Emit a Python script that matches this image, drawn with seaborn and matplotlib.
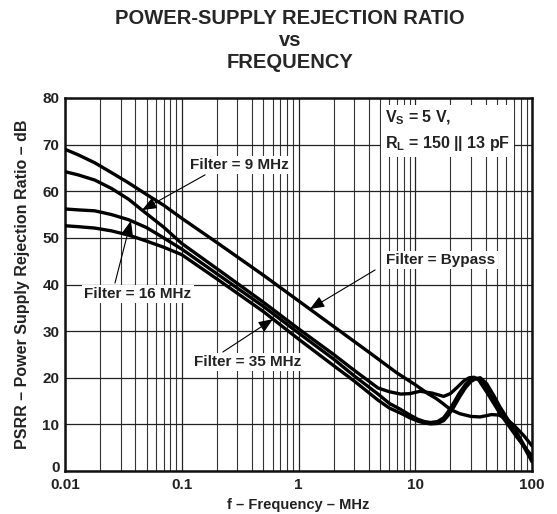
import numpy as np
import pandas as pd
import matplotlib
matplotlib.use("Agg")
import matplotlib.pyplot as plt
import matplotlib.transforms as mtransforms
from matplotlib.ticker import LogLocator, FixedLocator, NullFormatter
import seaborn as sns

# ---- data: PSRR (dB) vs frequency (MHz) ----
f_bypass = [0.01, 0.013, 0.018, 0.025, 0.035, 0.05, 0.07, 0.1, 0.2, 0.5, 1, 2, 4, 7,
            10, 13, 15, 17, 20, 24, 30, 36, 45, 52, 60, 70, 85, 100]
psrr_bypass = [69.0, 67.8, 66.1, 64.0, 61.8, 59.3, 57.0, 54.2, 49.0, 42.0, 36.5, 31.0, 25.5, 21.0,
               18.5, 16.5, 15.6, 14.6, 13.2, 12.3, 11.7, 11.6, 12.1, 12.0, 11.2, 9.8, 7.6, 5.4]

f_9mhz = [0.01, 0.013, 0.018, 0.025, 0.035, 0.046, 0.07, 0.1, 0.2, 0.5, 1, 2, 3, 4.8, 6, 7.5,
          9, 11, 14, 17.5, 20, 23, 26, 29, 32, 35, 41, 47, 53, 62, 74, 86, 100]
psrr_9mhz = [64.2, 63.5, 62.4, 60.6, 58.3, 55.9, 52.3, 48.8, 43.4, 36.2, 30.5, 25.0, 21.6, 17.8, 17.0, 16.5,
             16.6, 17.1, 16.7, 16.0, 16.6, 18.0, 19.3, 20.0, 20.1, 19.5, 16.9, 14.5, 12.4, 10.0, 7.3, 5.2, 3.2]

f_16mhz = [0.01, 0.013, 0.018, 0.025, 0.035, 0.05, 0.07, 0.1, 0.2, 0.5, 1, 2, 3, 4.8, 6, 7.5, 9,
           10.5, 12, 13.5, 15.5, 17.5, 19, 21, 24, 27, 30, 33, 36, 41, 47, 53, 62, 74, 86, 100]
psrr_16mhz = [56.2, 56.0, 55.8, 55.0, 53.9, 52.2, 50.0, 47.6, 42.3, 35.3, 29.6, 24.0, 20.4, 16.5, 14.5, 13.2, 12.0,
              11.1, 10.6, 10.4, 10.6, 11.4, 12.6, 14.3, 16.8, 18.6, 19.6, 19.9, 19.6, 17.8, 15.3, 13.0, 10.5, 7.8, 5.0, 2.0]

f_35mhz = [0.01, 0.013, 0.018, 0.025, 0.035, 0.05, 0.07, 0.1, 0.2, 0.5, 1, 2, 3, 4.8, 6, 7.5, 9,
           10.5, 12, 13.5, 15.5, 17.5, 19, 21, 24, 27, 30, 33, 36, 41, 47, 53, 62, 74, 86, 100]
psrr_35mhz = [52.6, 52.4, 52.1, 51.5, 50.6, 49.3, 48.0, 46.4, 41.2, 34.2, 28.3, 22.6, 19.3, 15.2, 13.5, 12.4, 11.4,
              10.7, 10.3, 10.1, 10.2, 10.8, 11.8, 13.4, 15.9, 17.9, 19.2, 19.8, 20.0, 18.7, 16.2, 13.8, 11.1, 8.3, 5.4, 2.4]

series_names = ["Filter = Bypass", "Filter = 9 MHz", "Filter = 16 MHz", "Filter = 35 MHz"]
series_f = [f_bypass, f_9mhz, f_16mhz, f_35mhz]
series_v = [psrr_bypass, psrr_9mhz, psrr_16mhz, psrr_35mhz]

x_ticks = [0.01, 0.1, 1, 10, 100]
x_tick_labels = ["0.01", "0.1", "1", "10", "100"]
y_ticks = [0, 10, 20, 30, 40, 50, 60, 70, 80]

frames = [pd.DataFrame({"f": f, "psrr": v, "series": name})
          for name, f, v in zip(series_names, series_f, series_v)]
df = pd.concat(frames, ignore_index=True)

# ---- style ----
sns.set_style("white")
plt.rcParams["font.family"] = ["Liberation Sans", "DejaVu Sans"]
plt.rcParams["font.weight"] = "bold"
plt.rcParams["mathtext.fontset"] = "custom"
plt.rcParams["mathtext.rm"] = "Liberation Sans:bold"
plt.rcParams["mathtext.bf"] = "Liberation Sans:bold"
plt.rcParams["mathtext.it"] = "Liberation Sans:bold"

fig = plt.figure(figsize=(5.57, 5.14), dpi=100)
ax = fig.add_axes([65 / 557, 43 / 514, 467 / 557, 373 / 514])

sns.lineplot(data=df, x="f", y="psrr", hue="series", units="series", estimator=None,
             palette=["black"] * 4, linewidth=2.4, legend=False, ax=ax, sort=False, zorder=3)

ax.set_xscale("log")
ax.set_xlim(0.01, 100)
ax.set_ylim(0, 80)
ax.xaxis.set_major_locator(FixedLocator(x_ticks))
ax.set_xticklabels(x_tick_labels)
ax.xaxis.set_minor_locator(LogLocator(base=10, subs=np.arange(2, 10)))
ax.xaxis.set_minor_formatter(NullFormatter())
ax.set_yticks(y_ticks)

ax.grid(True, which="major", axis="both", color="#222222", linewidth=0.9, zorder=0)
ax.grid(True, which="minor", axis="x", color="#333333", linewidth=0.8, zorder=0)
ax.set_axisbelow(True)
ax.tick_params(axis="both", which="both", length=0, labelsize=11)
ax.tick_params(axis="x", pad=5)
ax.tick_params(axis="y", pad=4)
for lab in ax.get_xticklabels() + ax.get_yticklabels():
    lab.set_fontweight("bold")
    lab.set_color("#222222")
# lift the "0" label a little so it clears the "0.01" label below it
zero_label = ax.get_yticklabels()[0]
zero_label.set_transform(zero_label.get_transform() +
                         mtransforms.ScaledTranslation(0, 4 / 100, fig.dpi_scale_trans))
for sp in ax.spines.values():
    sp.set_visible(True)
    sp.set_color("#111111")
    sp.set_linewidth(1.8)

ax.set_xlabel("f \u2013 Frequency \u2013 MHz", fontsize=10.5, fontweight="bold", labelpad=4, color="#222222")
ax.set_ylabel("PSRR \u2013 Power Supply Rejection Ratio \u2013 dB", fontsize=11.5, fontweight="bold",
              labelpad=9, color="#222222")

fig.text(290 / 557, 1 - 18 / 514, "POWER-SUPPLY REJECTION RATIO", ha="center", va="center",
         fontsize=14.5, fontweight="bold")
fig.text(290 / 557, 1 - 40 / 514, "vs", ha="center", va="center", fontsize=14.5, fontweight="bold")
fig.text(290 / 557, 1 - 63 / 514, "FREQUENCY", ha="center", va="center", fontsize=14.5, fontweight="bold")


def on_curve(idx, freq):
    """Point on a series at the given frequency (log-frequency lookup)."""
    f = np.log10(series_f[idx])
    return freq, float(np.interp(np.log10(freq), f, series_v[idx]))


box = dict(boxstyle="square,pad=0.15", fc="white", ec="none")
arrow = dict(arrowstyle="-|>,head_length=0.55,head_width=0.22", mutation_scale=16,
             lw=0.8, color="black", shrinkA=0, shrinkB=0)

# (series index, frequency of arrow tip, arrow tail in axes fraction, label centre in axes fraction)
callouts = [
    (1, 0.0457, (0.300, 0.794), (0.373, 0.820)),
    (2, 0.0367, (0.107, 0.504), (0.156, 0.4745)),
    (0, 1.25, (0.664, 0.539), (0.805, 0.566)),
    (3, 0.605, (0.338, 0.319), (0.392, 0.292)),
]
for idx, ftip, tail, centre in callouts:
    ax.annotate("", xy=on_curve(idx, ftip), xycoords="data", xytext=tail,
                textcoords="axes fraction", arrowprops=arrow, zorder=4)
    ax.text(centre[0], centre[1], series_names[idx], transform=ax.transAxes, ha="center",
            va="center", fontsize=11, fontweight="bold", color="#222222", bbox=box, zorder=5)

ax.text(0.685, 0.913, "V$_{\\rm S}$ = 5 V,\nR$_{\\rm L}$ = 150 || 13 pF", transform=ax.transAxes,
        ha="left", va="center", fontsize=11.5, fontweight="bold", color="#222222", linespacing=1.5,
        bbox=dict(boxstyle="square,pad=0.25", fc="white", ec="none"), zorder=5)

fig.savefig("out.png", dpi=100)
